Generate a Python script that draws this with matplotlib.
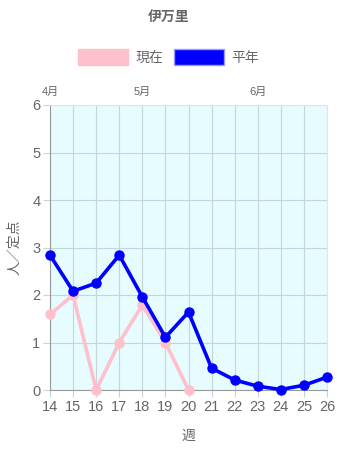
import matplotlib
matplotlib.use('Agg')
import matplotlib.pyplot as plt
from matplotlib.patches import Patch

plt.rcParams['font.family'] = ['Liberation Sans', 'Noto Sans CJK JP']

weeks = [14, 15, 16, 17, 18, 19, 20, 21, 22, 23, 24, 25, 26]
heinen = [2.84, 2.08, 2.25, 2.84, 1.96, 1.11, 1.64, 0.46, 0.21, 0.08, 0.01, 0.10, 0.27]
genzai_weeks = [14, 15, 16, 17, 18, 19, 20]
genzai = [1.59, 2.0, 0.0, 1.0, 1.79, 1.0, 0.0]
month_weeks = [14, 18, 23]
month_labels = ['4月', '5月', '6月']

text_c = '#666666'
grid_c = '#c5d5da'
cjk = ['Noto Sans CJK JP', 'DejaVu Sans']

fig = plt.figure(figsize=(3.37, 4.5), dpi=100)
ax = fig.add_axes([50 / 337, 1 - 390 / 450, 277 / 337, 285 / 450])
ax.set_facecolor('#e6fcff')

ax.plot(genzai_weeks, genzai, color='pink', lw=2.6, marker='o', ms=6.5, zorder=3, clip_on=False)
ax.plot(weeks, heinen, color='blue', lw=2.6, marker='o', ms=6.5, zorder=4, clip_on=False)

ax.set_xlim(14, 26)
ax.set_ylim(0, 6)
ax.set_xticks(weeks)
ax.set_yticks(range(0, 7))
ax.grid(True, color=grid_c, lw=0.8)
ax.set_axisbelow(True)
ax.tick_params(colors=grid_c, labelcolor=text_c, labelsize=10.5, length=5, width=0.8, pad=2)
for s in ['top', 'right']:
    ax.spines[s].set_color('#dde6e8')
    ax.spines[s].set_linewidth(0.8)
for s in ['left', 'bottom']:
    ax.spines[s].set_color('#999999')
    ax.spines[s].set_linewidth(0.8)

ax.set_xlabel('週', color=text_c, fontsize=10, labelpad=11, family=cjk)
ax.set_ylabel('人／定点', color=text_c, fontsize=10, labelpad=8, family=cjk)

top = ax.secondary_xaxis('top')
top.set_xticks(month_weeks)
top.set_xticklabels(month_labels, family=['Liberation Sans', 'Noto Sans CJK JP'])
top.tick_params(length=0, labelsize=8, labelcolor=text_c, pad=6)
top.spines['top'].set_visible(False)

fig.text(0.5, 1 - 17 / 450, '伊万里', ha='center', va='center', fontsize=10,
         fontweight='bold', color=text_c, family=cjk)

handles = [Patch(facecolor='pink', edgecolor='pink', label='現在'),
           Patch(facecolor='blue', edgecolor='#9999ff', label='平年')]
fig.legend(handles=handles, loc='center', bbox_to_anchor=(0.5, 1 - 57 / 450), ncol=2,
           frameon=False, handlelength=3.6, handleheight=1.3,
           handletextpad=0.5, columnspacing=0.8, labelcolor=text_c,
           prop={'family': cjk, 'size': 10})

fig.savefig('out.png', dpi=100)
